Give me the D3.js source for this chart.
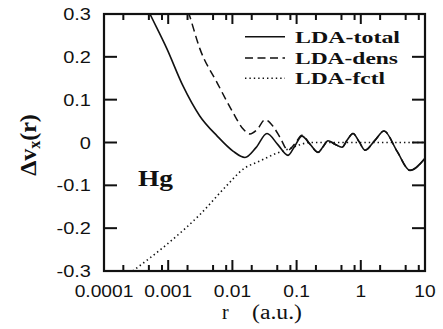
<!DOCTYPE html>
<html><head><meta charset="utf-8">
<script src="https://cdn.jsdelivr.net/npm/d3@7"></script>
<style>body{margin:0;background:#fff}svg{display:block}</style>
</head><body>
<svg id="c" width="443" height="329"></svg>
<script>
// ---- data ----
const totalR = [0.00036,0.00052,0.00096,0.0017,0.0031,0.0058,0.0102,0.0157,0.0233,0.0346,0.051,0.0735,0.094,0.121,0.162,0.215,0.258,0.308,0.396,0.509,0.61,0.756,0.94,1.16,1.66,2.3,3.66,5.84,10];
const totalV = [0.35,0.30,0.218,0.132,0.062,0.015,-0.02,-0.035,-0.012,0.021,-0.005,-0.03,-0.008,0.015,-0.004,-0.023,-0.01,0.004,-0.004,-0.011,0.005,0.021,0.002,-0.018,0.005,0.027,-0.02,-0.065,-0.037];
const densR = [0.00153,0.00211,0.00313,0.00576,0.0102,0.0146,0.0188,0.0242,0.0322,0.0429,0.0551,0.0735,0.094,0.121,0.162,0.215,0.258,0.308,0.396,0.509,0.61,0.756,0.94,1.16,1.66,2.3,3.66,5.84,10];
const densV = [0.36,0.30,0.218,0.14,0.07,0.032,0.02,0.03,0.053,0.038,0.012,-0.018,-0.003,0.017,-0.004,-0.023,-0.01,0.004,-0.004,-0.011,0.005,0.021,0.002,-0.018,0.005,0.027,-0.02,-0.065,-0.037];
const fctlR = [0.00028,0.00095,0.00313,0.0081,0.0148,0.0269,0.049,0.079,0.113,0.162,0.3,1,3,10];
const fctlV = [-0.3,-0.238,-0.168,-0.101,-0.062,-0.043,-0.025,-0.014,-0.005,0,0,0,0,0];
const seriesNames = ["LDA-total","LDA-dens","LDA-fctl"];
const xTickValues = [0.0001,0.001,0.01,0.1,1,10];
const xTickLabels = ["0.0001","0.001","0.01","0.1","1","10"];
const yTickValues = [0.3,0.2,0.1,0,-0.1,-0.2,-0.3];
const yTickLabels = ["0.3","0.2","0.1","0","-0.1","-0.2","-0.3"];
const minorMult = [2,5,8];

// ---- layout ----
const L=104,R=425,T=14,B=271;
const svg=d3.select("#c");
const x=d3.scaleLog().domain([1e-4,10]).range([L,R]);
const y=d3.scaleLinear().domain([-0.3,0.3]).range([B,T]);

svg.append("clipPath").attr("id","clip").append("rect").attr("x",L).attr("y",T).attr("width",R-L).attr("height",B-T);

const line=d3.line().x(d=>x(d.r)).y(d=>y(d.v)).curve(d3.curveMonotoneX);
const mk=(rs,vs)=>rs.map((r,i)=>({r:r,v:vs[i]}));
const g=svg.append("g").attr("clip-path","url(#clip)");
g.append("path").datum(mk(fctlR,fctlV)).attr("d",line).attr("fill","none").attr("stroke","#111").attr("stroke-width",1.6).attr("stroke-dasharray","1.4,3");
g.append("path").datum(mk(densR,densV)).attr("d",line).attr("fill","none").attr("stroke","#111").attr("stroke-width",1.5).attr("stroke-dasharray","8,4.5");
g.append("path").datum(mk(totalR,totalV)).attr("d",line).attr("fill","none").attr("stroke","#111").attr("stroke-width",1.6);

// frame
svg.append("rect").attr("x",L).attr("y",T).attr("width",R-L).attr("height",B-T).attr("fill","none").attr("stroke","#111").attr("stroke-width",2.2);

// x ticks
const minors=[];
xTickValues.slice(0,-1).forEach(v=>minorMult.forEach(m=>minors.push(v*m)));
const tk=svg.append("g").attr("stroke","#111").attr("stroke-width",2);
xTickValues.forEach(v=>{
  tk.append("line").attr("x1",x(v)).attr("x2",x(v)).attr("y1",B).attr("y2",B-11);
  tk.append("line").attr("x1",x(v)).attr("x2",x(v)).attr("y1",T).attr("y2",T+10);
});
minors.forEach(v=>{
  tk.append("line").attr("x1",x(v)).attr("x2",x(v)).attr("y1",B).attr("y2",B-6);
  tk.append("line").attr("x1",x(v)).attr("x2",x(v)).attr("y1",T).attr("y2",T+6);
});
yTickValues.forEach(v=>{
  tk.append("line").attr("x1",L).attr("x2",L+13).attr("y1",y(v)).attr("y2",y(v));
  tk.append("line").attr("x1",R).attr("x2",R-13).attr("y1",y(v)).attr("y2",y(v));
});

// tick labels
const sans="'Liberation Sans', Arial, sans-serif";
xTickValues.forEach((v,i)=>{
  svg.append("text").attr("transform",`translate(${x(v)},297) scale(1.2,1)`)
    .attr("text-anchor","middle").attr("font-family",sans).attr("font-size",16).attr("fill","#111").text(xTickLabels[i]);
});
yTickValues.forEach((v,i)=>{
  svg.append("text").attr("transform",`translate(91,${y(v)+6}) scale(1.25,1)`)
    .attr("text-anchor","end").attr("font-family",sans).attr("font-size",16).attr("fill","#111").text(yTickLabels[i]);
});

const serif="'Liberation Serif','Times New Roman',serif";
// axis titles
const xt=svg.append("text").attr("y",319).attr("font-family",serif).attr("font-size",20).attr("fill","#111");
xt.append("tspan").attr("x",222).text("r");
xt.append("tspan").attr("x",252).attr("textLength",50).attr("lengthAdjust","spacingAndGlyphs").text("(a.u.)");

const yt=svg.append("text").attr("transform","translate(36,145) rotate(-90)").attr("text-anchor","middle")
  .attr("font-family",serif).attr("font-weight","bold").attr("font-size",24).attr("fill","#111");
yt.append("tspan").text("\u0394v");
yt.append("tspan").attr("font-size",16).attr("dy",4).text("x");
yt.append("tspan").attr("dy",-4).text("(r)");

// Hg label
svg.append("text").attr("x",138).attr("y",186).attr("font-family",serif).attr("font-weight","bold")
  .attr("font-size",24).attr("textLength",35).attr("lengthAdjust","spacingAndGlyphs").attr("fill","#111").text("Hg");

// legend
const legY=[36.7,58,78.3];
const legLen=[105,103,90];
const dashes=[null,"8,4.5","1.4,3"];
seriesNames.forEach((n,i)=>{
  const l=svg.append("line").attr("x1",245).attr("x2",285).attr("y1",legY[i]).attr("y2",legY[i])
    .attr("stroke","#111").attr("stroke-width",1.6);
  if(dashes[i]) l.attr("stroke-dasharray",dashes[i]);
  svg.append("text").attr("x",295).attr("y",legY[i]+6).attr("font-family",serif).attr("font-weight","bold")
    .attr("font-size",17).attr("textLength",legLen[i]).attr("lengthAdjust","spacingAndGlyphs").attr("fill","#111").text(n);
});
</script>
</body></html>
